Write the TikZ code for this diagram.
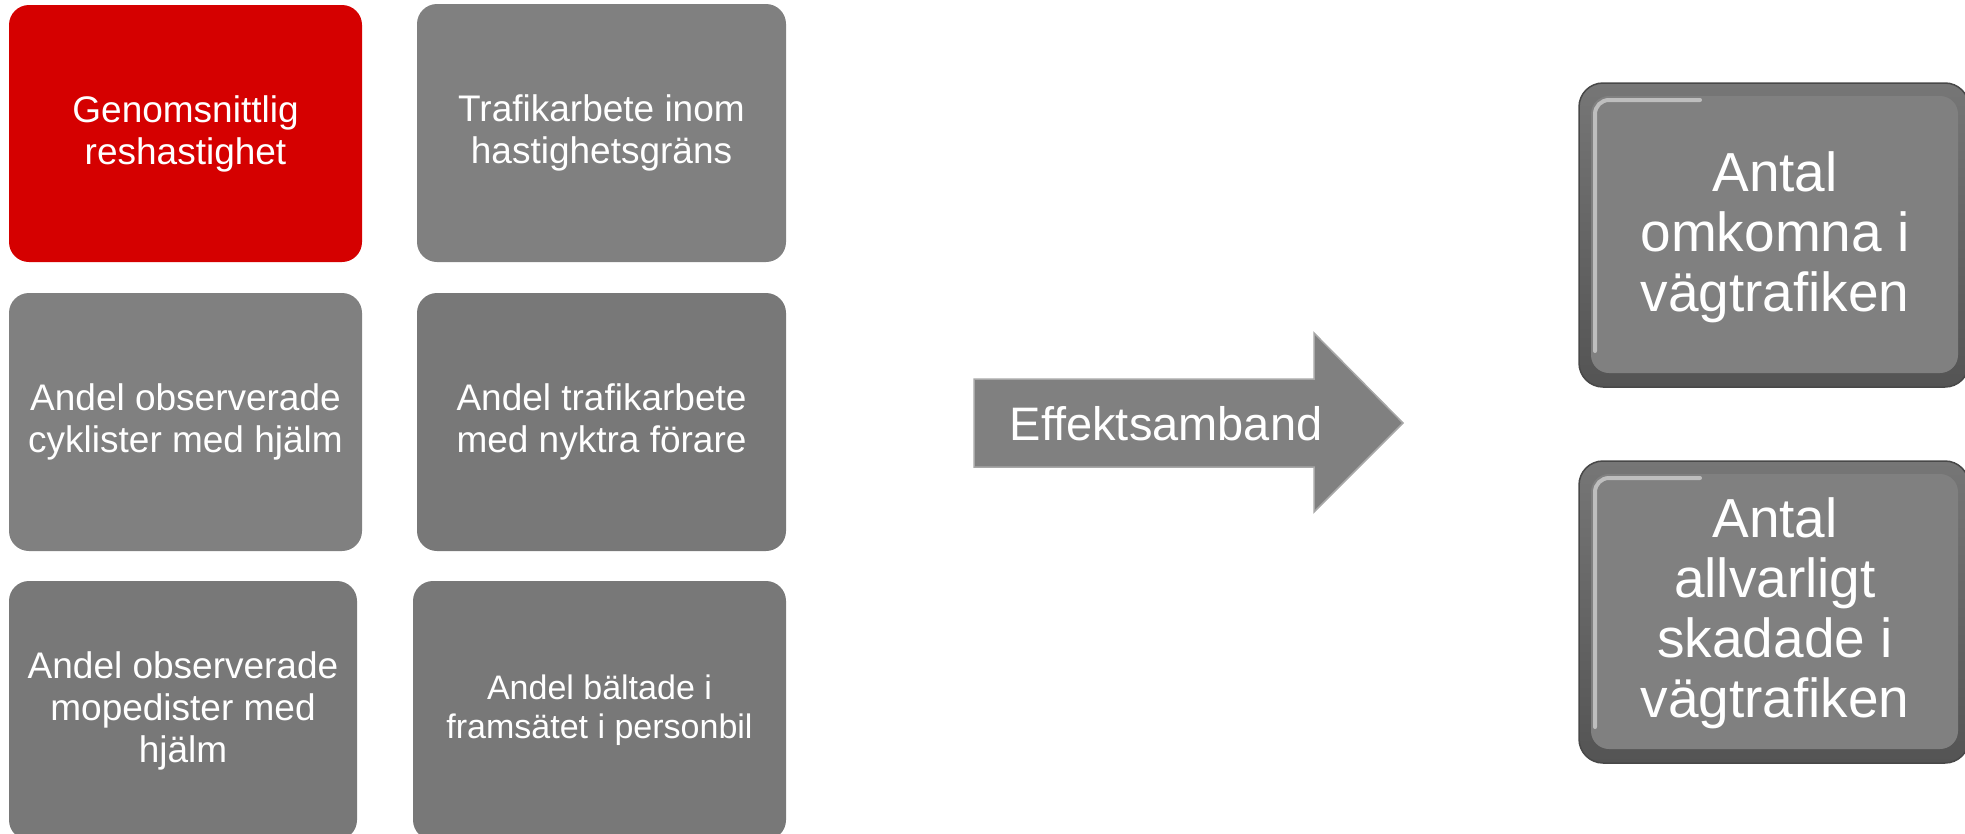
\documentclass[tikz,border=0pt]{standalone}
\usepackage{fontspec}
\setmainfont{Liberation Sans}
\usepackage{tikz}
\definecolor{speedred}{RGB}{213, 0, 0}
\definecolor{tilegray}{RGB}{128, 128, 128}
\definecolor{tiledark}{RGB}{120, 120, 120}
\definecolor{arrowedge}{RGB}{168, 168, 168}
\definecolor{rimtop}{RGB}{118, 118, 118}
\definecolor{rimbot}{RGB}{84, 84, 84}
\definecolor{rimline}{RGB}{72, 72, 72}

\begin{document}
\begin{tikzpicture}[x=1pt, y=-1pt,
    tile/.style={rounded corners=20pt, text=white, align=center, inner sep=0pt,
                 font=\fontsize{37}{42}\selectfont},
    label/.style={text=white, align=center, inner sep=0pt},
    highlight/.style={color=white!65!tilegray, line width=4pt, line cap=round, opacity=0.75}]
  \useasboundingbox (0, 0) rectangle (1965, 833);

  % indicator tiles
  \node[tile, fill=speedred, minimum width=353pt, minimum height=257pt] (speed) at (185.5, 133.5)
       {Genomsnittlig\\reshastighet};
  \node[tile, fill=tilegray, minimum width=369pt, minimum height=258pt] (limit) at (601.5, 133)
       {Trafikarbete inom\\hastighetsgräns};
  \node[tile, fill=tilegray, minimum width=353pt, minimum height=258pt] (cyclist) at (185.5, 422)
       {Andel observerade\\cyklister med hjälm};
  \node[tile, fill=tiledark, minimum width=369pt, minimum height=258pt] (sober) at (601.5, 422)
       {Andel trafikarbete\\med nyktra förare};
  \begin{scope}
    \clip (0, 0) rectangle (1965, 833);
    \node[tile, fill=tiledark, minimum width=348pt, minimum height=259pt] (moped) at (183, 710.5)
         {Andel observerade\\mopedister med\\hjälm};
    \node[tile, fill=tiledark, minimum width=373pt, minimum height=259pt,
          font=\fontsize{34}{39}\selectfont] (belt) at (599.5, 710.5)
         {Andel bältade i\\framsätet i personbil};
  \end{scope}

  % block arrow
  \draw[fill=tilegray, draw=arrowedge, line width=1.5pt]
    (974, 379) -- (1314, 379) -- (1314, 333) -- (1403, 423)
    -- (1314, 512) -- (1314, 467) -- (974, 467) -- cycle;
  \node[label, font=\fontsize{47}{52}\selectfont] (effect) at (1166, 424) {Effektsamband};

  % outcome boxes
  \begin{scope}
    \clip (0, 0) rectangle (1965, 833);
    \foreach \top/\bot in {83/387, 461/763} {
      \shade[top color=rimtop, bottom color=rimbot, draw=rimline, line width=1.5pt,
             rounded corners=24pt] (1579, \top) rectangle (1969, \bot);
      \fill[tilegray, rounded corners=18pt] (1591, \top+13) rectangle (1958, \bot-14);
      \draw[highlight, rounded corners=14pt] (1595, \bot-36) -- (1595, \top+17) -- (1700, \top+17);
    }
  \end{scope}
  \node[label, font=\fontsize{55}{60}\selectfont] (killed) at (1775, 237)
       {Antal\\omkomna i\\vägtrafiken};
  \node[label, font=\fontsize{55}{60}\selectfont] (injured) at (1775, 613)
       {Antal\\allvarligt\\skadade i\\vägtrafiken};
\end{tikzpicture}
\end{document}
